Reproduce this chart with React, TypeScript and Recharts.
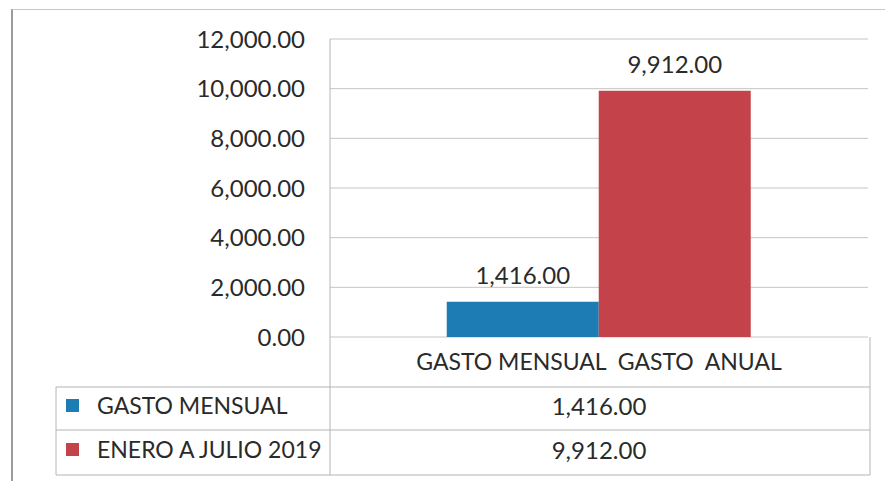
import React from 'react';
import { BarChart, Bar, XAxis, YAxis, CartesianGrid, LabelList } from 'recharts';

const categories = ['GASTO MENSUAL  GASTO  ANUAL'];
const seriesNames = ['GASTO MENSUAL', 'ENERO A JULIO 2019'];
const mensualValues = [1416];
const anualValues = [9912];
const yTicks = [0, 2000, 4000, 6000, 8000, 10000, 12000];
const seriesColors = ['#1d7cb3', '#c4434a'];

const data = categories.map((name, i) => ({
  name,
  mensual: mensualValues[i],
  anual: anualValues[i],
}));

const FONT = 'Lato, "Open Sans", sans-serif';
const TEXT = '#2a2a2a';
const GRID = '#c4c4c4';
const LINE = '#b4b4b4';
const FS = 24;
const FS_TABLE = 23;

const fmt = (v: number) =>
  Number(v).toLocaleString('en-US', { minimumFractionDigits: 2, maximumFractionDigits: 2 });

function YTick(props: any) {
  const { x, y, payload } = props;
  return (
    <text x={x} y={y + 8.5} textAnchor="end" fill={TEXT} fontFamily={FONT} fontSize={FS}>
      {fmt(payload.value)}
    </text>
  );
}

function CategoryTick(props: any) {
  const { x, y, payload } = props;
  const idx = Math.max(0, categories.indexOf(payload.value));
  const vals = [mensualValues[idx], anualValues[idx]];
  const left = 56;
  const divider = 330;
  const right = 870;
  const top = y;
  const rowTops = [top + 50, top + 93, top + 138];
  return (
    <g>
      <line x1={right} x2={right} y1={top} y2={rowTops[2]} stroke={LINE} />
      <line x1={divider} x2={divider} y1={top} y2={rowTops[2]} stroke={LINE} />
      <line x1={left} x2={left} y1={rowTops[0]} y2={rowTops[2]} stroke={LINE} />
      {rowTops.map((ry, i) => (
        <line key={i} x1={left} x2={right} y1={ry} y2={ry} stroke={LINE} />
      ))}
      <text
        x={x}
        y={top + 33}
        textAnchor="middle"
        fill={TEXT}
        fontFamily={FONT}
        fontSize={FS_TABLE}
        style={{ whiteSpace: 'pre' }}
      >
        {payload.value}
      </text>
      {seriesNames.map((s, i) => {
        const base = rowTops[i] + (i === 0 ? 27 : 28);
        return (
          <g key={s}>
            <rect x={66} y={base - 15} width={13} height={13} fill={seriesColors[i]} />
            <text x={97} y={base} fill={TEXT} fontFamily={FONT} fontSize={FS_TABLE}>
              {s}
            </text>
            <text x={x} y={base + 1} textAnchor="middle" fill={TEXT} fontFamily={FONT} fontSize={FS}>
              {fmt(vals[i])}
            </text>
          </g>
        );
      })}
    </g>
  );
}

export default function App() {
  return (
    <div
      style={{
        position: 'fixed',
        left: 0,
        top: 0,
        width: 885,
        height: 481,
        overflow: 'hidden',
        background: '#fff',
      }}
    >
      <div
        style={{
          position: 'absolute',
          left: 11,
          top: 9,
          width: 900,
          height: 500,
          borderLeft: '2px solid #9c9c9c',
          borderTop: '1px solid #c8c8c8',
        }}
      />
      <div style={{ position: 'absolute', left: 0, top: 0 }}>
        <BarChart
          width={885}
          height={481}
          data={data}
          margin={{ top: 39, right: 17, bottom: 0, left: 0 }}
          barCategoryGap="21.7%"
          barGap={0}
        >
          <CartesianGrid vertical={false} stroke={GRID} />
          <YAxis
            width={330}
            domain={[0, 12000]}
            ticks={yTicks}
            interval={0}
            axisLine={{ stroke: LINE }}
            tickLine={false}
            tickSize={0}
            tickMargin={25}
            tick={<YTick />}
          />
          <XAxis
            dataKey="name"
            height={144}
            axisLine={false}
            tickLine={false}
            tickSize={0}
            tickMargin={0}
            interval={0}
            tick={<CategoryTick />}
          />
          <Bar dataKey="mensual" name={seriesNames[0]} fill={seriesColors[0]} isAnimationActive={false}>
            <LabelList
              dataKey="mensual"
              position="top"
              offset={18}
              formatter={(v: any) => fmt(v)}
              fill={TEXT}
              fontFamily={FONT}
              fontSize={FS}
            />
          </Bar>
          <Bar dataKey="anual" name={seriesNames[1]} fill={seriesColors[1]} isAnimationActive={false}>
            <LabelList
              dataKey="anual"
              position="top"
              offset={18}
              formatter={(v: any) => fmt(v)}
              fill={TEXT}
              fontFamily={FONT}
              fontSize={FS}
            />
          </Bar>
        </BarChart>
      </div>
    </div>
  );
}
